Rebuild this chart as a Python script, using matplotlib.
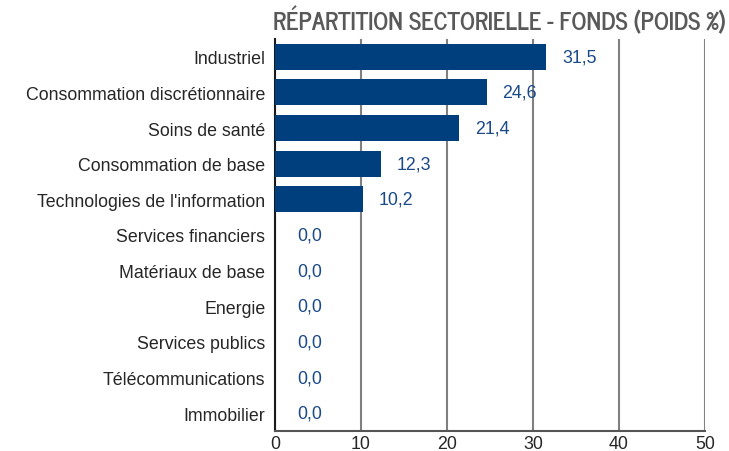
import matplotlib
matplotlib.use("Agg")
import matplotlib.pyplot as plt
from matplotlib import font_manager

categories = [
    "Industriel",
    "Consommation discrétionnaire",
    "Soins de santé",
    "Consommation de base",
    "Technologies de l'information",
    "Services financiers",
    "Matériaux de base",
    "Energie",
    "Services publics",
    "Télécommunications",
    "Immobilier",
]
weights = [31.5, 24.6, 21.4, 12.3, 10.2, 0.0, 0.0, 0.0, 0.0, 0.0, 0.0]
x_ticks = [0, 10, 20, 30, 40, 50]
title = "RÉPARTITION SECTORIELLE - FONDS (POIDS %)"


def first_font(cands, default="Liberation Sans"):
    names = {f.name for f in font_manager.fontManager.ttflist}
    for c in cands:
        if c in names:
            return c
    return default


title_font = first_font(["News Cycle", "Roboto Condensed", "Liberation Sans"])
plt.rcParams["font.family"] = ["Liberation Sans", "DejaVu Sans"]

bar_color = "#003f7d"
label_color = "#1a4a88"
grid_color = "#808080"

fig = plt.figure(figsize=(7.29, 4.52), dpi=100)
ax = fig.add_axes([275 / 729, 20 / 452, 430 / 729, 392 / 452])

ypos = list(range(len(categories)))
ax.barh(ypos, weights, height=0.73, color=bar_color, zorder=3)
for y, v in zip(ypos, weights):
    off = 16 if v > 0 else 22
    ax.annotate(f"{v:.1f}".replace(".", ","), (v, y), xytext=(off * 0.72, 0),
                textcoords="offset points", va="center", ha="left",
                fontsize=12.8, color=label_color)

ax.set_ylim(len(categories) - 0.5, -0.5)
ax.set_xlim(0, 50)
ax.set_yticks(ypos)
ax.set_yticklabels(categories, fontsize=12.8, color="#262626")
ax.set_xticks(x_ticks)
ax.set_xticklabels([str(t) for t in x_ticks], fontsize=12.8, color="#262626")
ax.tick_params(length=0)
ax.tick_params(axis="y", pad=7)
ax.tick_params(axis="x", pad=3)
ax.xaxis.grid(True, color=grid_color, linewidth=1.5, zorder=0)
for s in ["top", "right"]:
    ax.spines[s].set_visible(False)
ax.spines["left"].set_color("#1a1a1a")
ax.spines["left"].set_linewidth(1.5)
ax.spines["bottom"].set_color("#555555")
ax.spines["bottom"].set_linewidth(1.5)

fig.text(273 / 729, 1 - 21 / 452, title, fontsize=17.2, fontweight="bold",
         family=[title_font, "DejaVu Sans"], color="#595959", ha="left", va="center")

fig.savefig("out.png", dpi=100)
